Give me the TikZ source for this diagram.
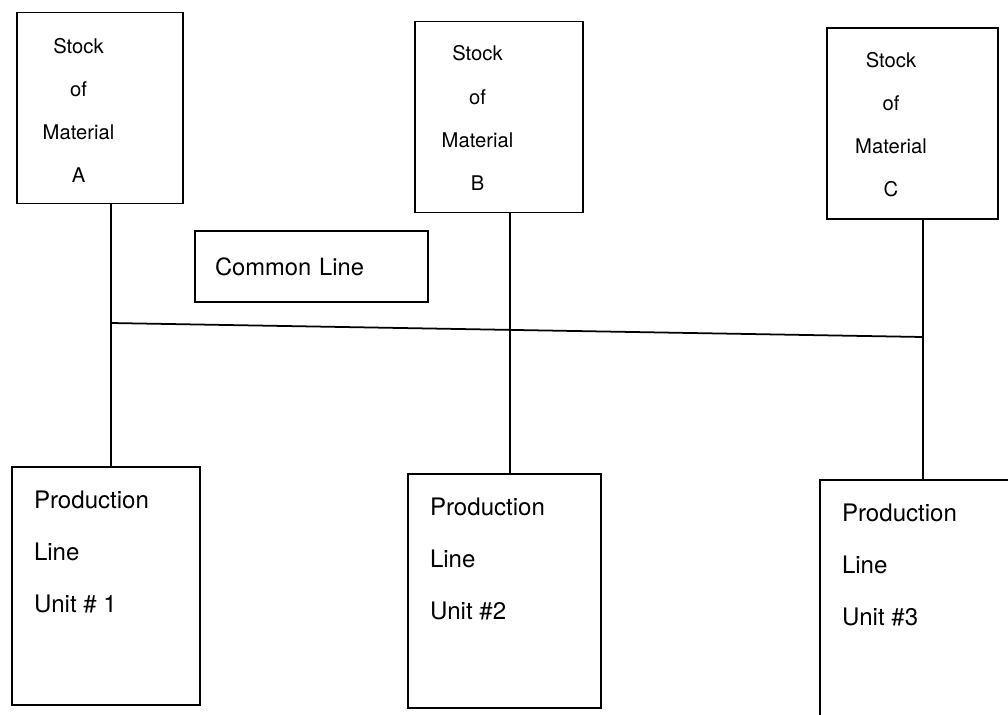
\documentclass[tikz,border=0pt]{standalone}
\usepackage{fontspec}
\setmainfont{TeX Gyre Heros}
\usepackage{tikz}

\begin{document}
\begin{tikzpicture}[line width=1pt,
  stockbox/.style={draw, rectangle, minimum width=3.35cm, minimum height=3.82cm},
  stocktxt/.style={align=center, inner sep=0pt, font=\fontsize{11.5}{24.5}\selectfont},
  prodbox/.style={draw, rectangle, minimum width=3.8cm, minimum height=4.72cm},
  prodtxt/.style={anchor=west, align=left, inner sep=0pt, font=\fontsize{13.7}{29.5}\selectfont}]
\useasboundingbox (0,0) rectangle (20.16,-14.28);
\clip (0,0) rectangle (20.16,-14.28);
% stock boxes
\node[stockbox, minimum width=3.32cm] (stockA) at (2.00,-2.16) {};
\node[stockbox, minimum width=3.36cm] (stockB) at (9.98,-2.34) {};
\node[stockbox, minimum width=3.42cm] (stockC) at (18.25,-2.47) {};
\node[stocktxt] (txtA) at ([xshift=-.43cm,yshift=-.05cm]stockA.center) {Stock\\of\\Material\\A};
\node[stocktxt] (txtB) at ([xshift=-.43cm,yshift=-.02cm]stockB.center) {Stock\\of\\Material\\B};
\node[stocktxt] (txtC) at ([xshift=-.43cm,yshift=-.03cm]stockC.center) {Stock\\of\\Material\\C};
% common line
\node[draw, rectangle, minimum height=1.42cm, text width=3.86cm, inner xsep=.4cm, align=left,
  font=\fontsize{13.5}{16}\selectfont] (common) at (6.23,-5.33) {Common Line};
% production units
\node[prodbox, minimum width=3.76cm, minimum height=4.76cm] (prodA) at (2.12,-11.72) {};
\node[prodbox, minimum width=3.86cm, minimum height=4.68cm] (prodB) at (10.09,-11.82) {};
\node[prodbox, minimum width=3.80cm, minimum height=5.00cm] (prodC) at (18.30,-12.10) {};
\node[prodtxt] (utxtA) at ([shift={(.44,-1.72)}]prodA.north west) {Production\\Line\\Unit \# 1};
\node[prodtxt] (utxtB) at ([shift={(.44,-1.72)}]prodB.north west) {Production\\Line\\Unit \#2};
\node[prodtxt] (utxtC) at ([shift={(.44,-1.72)}]prodC.north west) {Production\\Line\\Unit \#3};
% feeders and the common line
\coordinate (busA) at (2.22,-6.46);
\coordinate (busC) at (18.46,-6.74);
\draw ([xshift=.22cm]stockA.south) -- ([xshift=.22cm]stockA.south |- prodA.north);
\draw ([xshift=.22cm]stockB.south) -- ([xshift=.22cm]stockB.south |- prodB.north);
\draw ([xshift=.21cm]stockC.south) -- ([xshift=.21cm]stockC.south |- prodC.north);
\draw (busA) -- (busC);
\end{tikzpicture}
\end{document}
